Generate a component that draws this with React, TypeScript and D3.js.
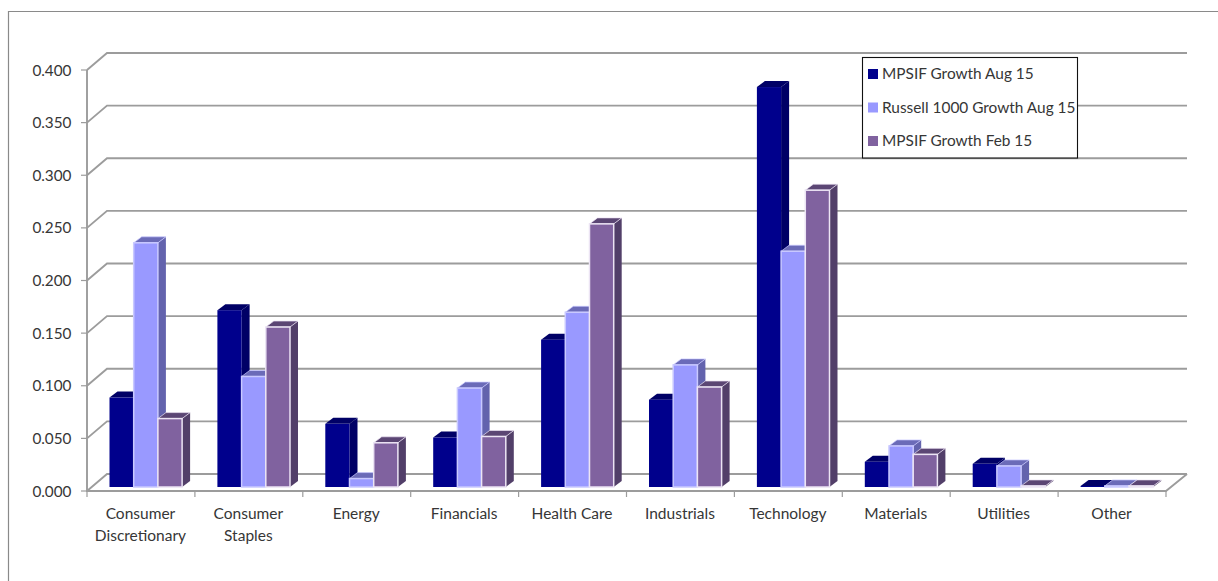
import React from "react";
import * as d3 from "d3";

const categories = [
  ["Consumer", "Discretionary"],
  ["Consumer", "Staples"],
  ["Energy"],
  ["Financials"],
  ["Health Care"],
  ["Industrials"],
  ["Technology"],
  ["Materials"],
  ["Utilities"],
  ["Other"],
];
const seriesNames = ["MPSIF Growth Aug 15", "Russell 1000 Growth Aug 15", "MPSIF Growth Feb 15"];
const mpsifAug = [0.085, 0.168, 0.06, 0.047, 0.14, 0.083, 0.38, 0.024, 0.022, 0.001];
const russellAug = [0.232, 0.105, 0.008, 0.094, 0.166, 0.116, 0.224, 0.039, 0.02, 0.001];
const mpsifFeb = [0.065, 0.152, 0.042, 0.048, 0.25, 0.095, 0.282, 0.031, 0.001, 0.001];
const tickValues = [0, 0.05, 0.1, 0.15, 0.2, 0.25, 0.3, 0.35, 0.4];

// front, top and side shades of each series
const palettes = [
  { front: "#00008c", top: "#000066", side: "#000066", edge: "none" },
  { front: "#9999ff", top: "#6b6bb8", side: "#6363ad", edge: "#c9c9ff" },
  { front: "#80629f", top: "#5b4674", side: "#523f69", edge: "#ece4f4" },
];

const WIDTH = 1218;
const HEIGHT = 581;
const DEPTH_X = 20;
const DEPTH_Y = 17;
const BAR_DX = 8;
const BAR_DY = 6;
const GRID = "#9c9c9c";
const FONT = "Lato, sans-serif";
const INK = "#363636";

export default function App() {
  const band = d3
    .scaleBand<number>()
    .domain(d3.range(categories.length))
    .range([87, 1166]);
  // wall position of a value (front edge of the floor)
  const wallY = d3.scaleLinear().domain([0, 0.4]).range([491, 70]);
  // bars stand a few pixels behind the front edge
  const barY = d3.scaleLinear().domain([0, 0.4]).range([487, 66]);
  const series = [mpsifAug, russellAug, mpsifFeb];
  const barW = 24.2;
  const inset = 22.5;
  const xFront = band.range()[0];
  const xEnd = band.range()[1];
  const floorY = wallY(0);

  return (
    <svg
      width={WIDTH}
      height={HEIGHT}
      viewBox={`0 0 ${WIDTH} ${HEIGHT}`}
      style={{ position: "fixed", left: 0, top: 0, background: "#fff" }}
    >
      {/* chart frame, open on the right and at the bottom */}
      <path d={`M8.5 ${HEIGHT}V11.5H${WIDTH}`} fill="none" stroke="#8a8a8a" strokeWidth={1.2} />

      {/* back wall gridlines and their diagonals to the axis */}
      {tickValues.map((t) => (
        <path
          key={t}
          d={`M${xFront} ${wallY(t)}L${xFront + DEPTH_X} ${wallY(t) - DEPTH_Y}H${xEnd + DEPTH_X + 1}`}
          fill="none"
          stroke={GRID}
          strokeWidth={1.9}
        />
      ))}

      {/* floor edges and axis lines */}
      <path
        d={`M${xFront} ${wallY(0.4)}V${floorY}H${xEnd}L${xEnd + DEPTH_X + 1} ${floorY - DEPTH_Y}`}
        fill="none"
        stroke={GRID}
        strokeWidth={1.9}
      />
      {tickValues.map((t) => (
        <line key={t} x1={xFront - 6} x2={xFront} y1={wallY(t)} y2={wallY(t)} stroke={GRID} strokeWidth={1.2} />
      ))}
      {d3.range(categories.length + 1).map((i) => {
        const x = xFront + i * band.step();
        return <line key={i} x1={x} x2={x} y1={floorY} y2={floorY + 6} stroke={GRID} strokeWidth={1.2} />;
      })}

      {/* 3D columns */}
      {categories.map((_, c) =>
        series.map((values, s) => {
          const p = palettes[s];
          const x0 = (band(c) as number) + inset + s * barW;
          const x1 = x0 + barW;
          const y0 = barY(0);
          const y1 = barY(values[c]);
          return (
            <g key={`${c}-${s}`}>
              <path
                d={`M${x1} ${y0}L${x1 + BAR_DX} ${y0 - BAR_DY}V${y1 - BAR_DY}L${x1} ${y1}Z`}
                fill={p.side}
              />
              <path
                d={`M${x0} ${y1}L${x0 + BAR_DX} ${y1 - BAR_DY}H${x1 + BAR_DX}L${x1} ${y1}Z`}
                fill={p.top}
                stroke={p.edge}
                strokeWidth={p.edge === "none" ? 0 : 0.7}
              />
              <rect
                x={x0}
                y={y1}
                width={barW}
                height={Math.max(y0 - y1, 0)}
                fill={p.front}
                stroke={p.edge}
                strokeWidth={p.edge === "none" ? 0 : 1.5}
              />
            </g>
          );
        })
      )}

      {/* value axis labels */}
      {tickValues.map((t) => (
        <text
          key={t}
          x={71.5}
          y={wallY(t) + 5.5}
          textAnchor="end"
          fontFamily={FONT}
          fontSize={15.3}
          fill={INK}
        >
          {d3.format(".3f")(t)}
        </text>
      ))}

      {/* category labels */}
      {categories.map((lines, c) => (
        <text
          key={c}
          textAnchor="middle"
          fontFamily={FONT}
          fontSize={15.5}
          fill={INK}
        >
          {lines.map((line, i) => (
            <tspan key={line} x={(band(c) as number) + band.bandwidth() / 2 - 0.5} y={518.5 + i * 22}>
              {line}
            </tspan>
          ))}
        </text>
      ))}

      {/* legend */}
      <rect x={862.5} y={57.5} width={215} height={100.5} fill="#fff" stroke="#111" strokeWidth={1.1} />
      {seriesNames.map((name, i) => (
        <g key={name}>
          <rect x={868} y={69 + i * 33.5} width={10} height={10} fill={palettes[i].front} />
          <text x={882} y={79 + i * 33.5} fontFamily={FONT} fontSize={15.4} fill={INK}>
            {name}
          </text>
        </g>
      ))}
    </svg>
  );
}
